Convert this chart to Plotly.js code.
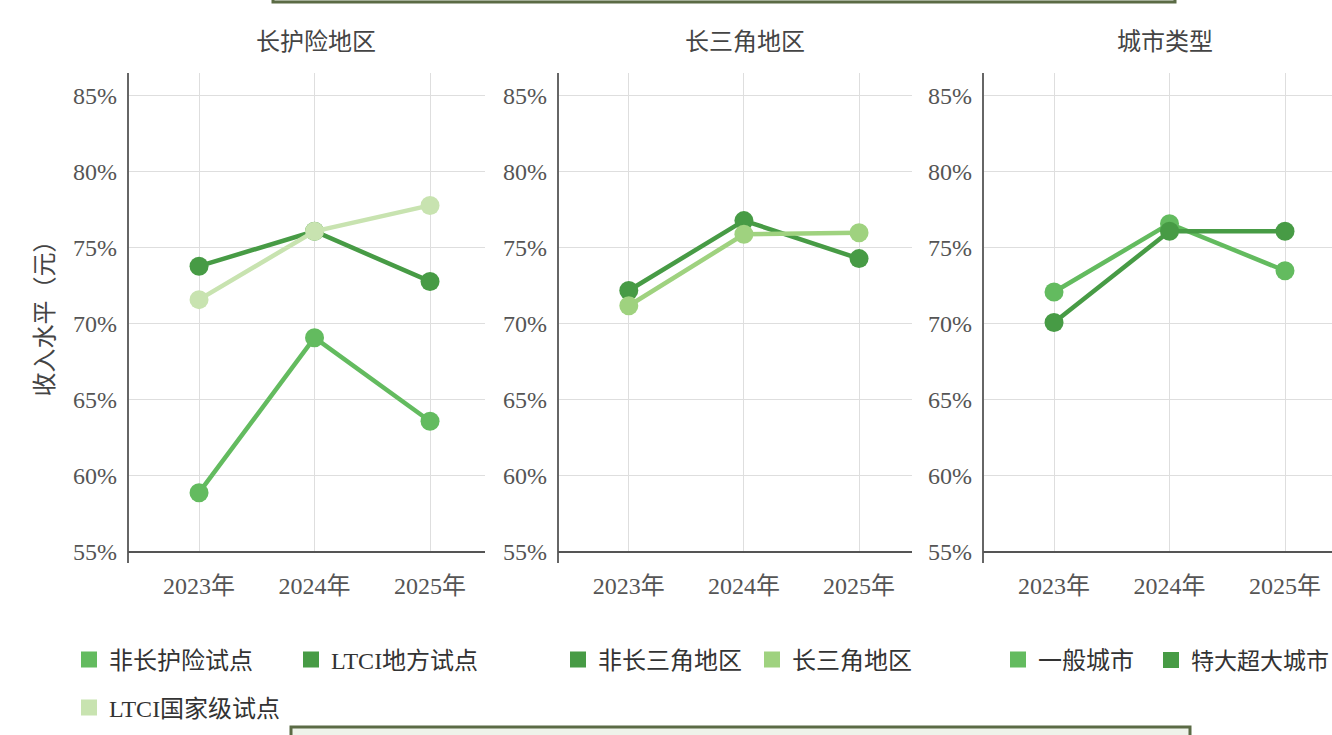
<!DOCTYPE html>
<html>
<head>
<meta charset="utf-8">
<script src="https://cdn.plot.ly/plotly-3.0.1.min.js"></script>
<style>html,body{margin:0;padding:0;background:#fff;overflow:hidden;}#chart{width:1332px;height:735px;}</style>
</head>
<body>
<div id="chart"></div>
<script>
// ---- data ----
const years = ["2023年", "2024年", "2025年"];
const panelTitles = ["长护险地区", "长三角地区", "城市类型"];
const yTickVals = [55, 60, 65, 70, 75, 80, 85];
const yTickText = ["55%", "60%", "65%", "70%", "75%", "80%", "85%"];
const yTitle = "收入水平（元）";

const names1 = ["非长护险试点", "LTCI地方试点", "LTCI国家级试点"];
const nonLtci = [58.9, 69.1, 63.6];
const ltciLocal = [73.8, 76.1, 72.8];
const ltciNational = [71.6, 76.1, 77.8];

const names2 = ["非长三角地区", "长三角地区"];
const nonYrd = [72.2, 76.8, 74.3];
const yrd = [71.2, 75.9, 76.0];

const names3 = ["一般城市", "特大超大城市"];
const generalCity = [72.1, 76.6, 73.5];
const megaCity = [70.1, 76.1, 76.1];

// ---- styling ----
const C_MED = "#63bb5f", C_DARK = "#479b45", C_LIGHT = "#c8e3b0", C_YRD = "#9fd27f";
const W = 1332, H = 735;
const px = v => v / W, py = v => 1 - v / H;
const SERIF = "'Liberation Serif', 'DejaVu Serif', 'Noto Sans CJK SC', serif";
const FS = 24;

function line(x, y, name, color, xa, ya, legend) {
  return [{
    x: x, y: y, type: "scatter", mode: "lines+markers", name: name,
    xaxis: xa, yaxis: ya, showlegend: false,
    line: {color: color, width: 4.5}, marker: {color: color, size: 19},
    hoverinfo: "x+y+name"
  }, {
    x: [null], y: [null], type: "scatter", mode: "markers", name: name,
    xaxis: xa, yaxis: ya, showlegend: true, legend: legend,
    marker: {color: color, size: 16, symbol: "square"}
  }];
}

const traces = [].concat(
  line(years, nonLtci, names1[0], C_MED, "x", "y", "legend"),
  line(years, ltciLocal, names1[1], C_DARK, "x", "y", "legend"),
  line(years, ltciNational, names1[2], C_LIGHT, "x", "y", "legend2"),
  line(years, nonYrd, names2[0], C_DARK, "x2", "y2", "legend3"),
  line(years, yrd, names2[1], C_YRD, "x2", "y2", "legend3"),
  line(years, generalCity, names3[0], C_MED, "x3", "y3", "legend4"),
  line(years, megaCity, names3[1], C_DARK, "x3", "y3", "legend5")
);

const yDom = [py(552), py(73)];
function xAxis(d0, d1, r1, anchor) {
  return {
    domain: [px(d0), px(d1)], anchor: anchor, type: "category", range: [-0.615, r1],
    showgrid: true, gridcolor: "#dedede", gridwidth: 1,
    showline: false, zeroline: false, ticks: "",
    ticklabelstandoff: 17,
    tickfont: {family: SERIF, size: FS, color: "#555"},
    fixedrange: true
  };
}
function yAxis(anchor, title) {
  const a = {
    domain: yDom, anchor: anchor, range: [55, 86.51],
    tickvals: yTickVals, ticktext: yTickText,
    showgrid: true, gridcolor: "#dedede", gridwidth: 1,
    showline: false, zeroline: false, ticks: "",
    ticklabelstandoff: 10,
    tickfont: {family: SERIF, size: FS, color: "#555"},
    fixedrange: true
  };
  if (title) a.title = {text: title, font: {family: SERIF, size: FS, color: "#444"}, standoff: 12};
  return a;
}

const panels = [[128, 485], [558, 912], [983, 1332]];
const shapes = [];
panels.forEach(p => {
  shapes.push({type: "line", xref: "paper", yref: "paper", x0: px(p[0]), x1: px(p[0]), y0: py(73), y1: py(563),
    line: {color: "#666", width: 2}});
  shapes.push({type: "line", xref: "paper", yref: "paper", x0: px(p[0]), x1: px(p[1]), y0: py(552), y1: py(552),
    line: {color: "#555", width: 2}});
});
// decorative boxes
shapes.push({type: "rect", xref: "paper", yref: "paper", x0: px(273), x1: px(1175), y0: py(2), y1: py(-20),
  line: {color: "#5b6b45", width: 3}, fillcolor: "#eef3ea"});
shapes.push({type: "rect", xref: "paper", yref: "paper", x0: px(291), x1: px(1190), y0: py(727), y1: py(760),
  line: {color: "#5b6b45", width: 3}, fillcolor: "#eef3ea"});

const annotations = panelTitles.map((t, i) => ({
  text: t, xref: "paper", yref: "paper", x: px([316, 745, 1165][i]), y: py(42),
  xanchor: "center", yanchor: "middle", showarrow: false,
  font: {family: SERIF, size: FS, color: "#444"}
}));

function legend(x, y, ew, fs) {
  const l = {
    orientation: "h", x: px(x), y: py(y), xanchor: "left", yanchor: "middle",
    font: {family: SERIF, size: fs || FS, color: "#333"}, bgcolor: "rgba(0,0,0,0)",
    itemclick: false, itemdoubleclick: false
  };
  if (ew) l.entrywidth = ew;
  return l;
}

const layout = {
  width: W, height: H,
  margin: {l: 0, r: 0, t: 0, b: 0, pad: 0, autoexpand: false},
  paper_bgcolor: "#fff", plot_bgcolor: "#fff",
  showlegend: true,
  xaxis: xAxis(128, 485, 2.476, "y"), yaxis: yAxis("x", yTitle),
  xaxis2: xAxis(558, 912, 2.46, "y2"), yaxis2: yAxis("x2"),
  xaxis3: xAxis(983, 1332, 2.407, "y3"), yaxis3: yAxis("x3"),
  legend: legend(69, 660, 177),
  legend2: legend(69, 708, 177),
  legend3: legend(558, 660, 149),
  legend4: legend(998, 660),
  legend5: legend(1151, 660, null, 23),
  shapes: shapes,
  annotations: annotations,
  hovermode: "closest"
};

Plotly.newPlot("chart", traces, layout, {displayModeBar: false, responsive: false});
</script>
</body>
</html>
